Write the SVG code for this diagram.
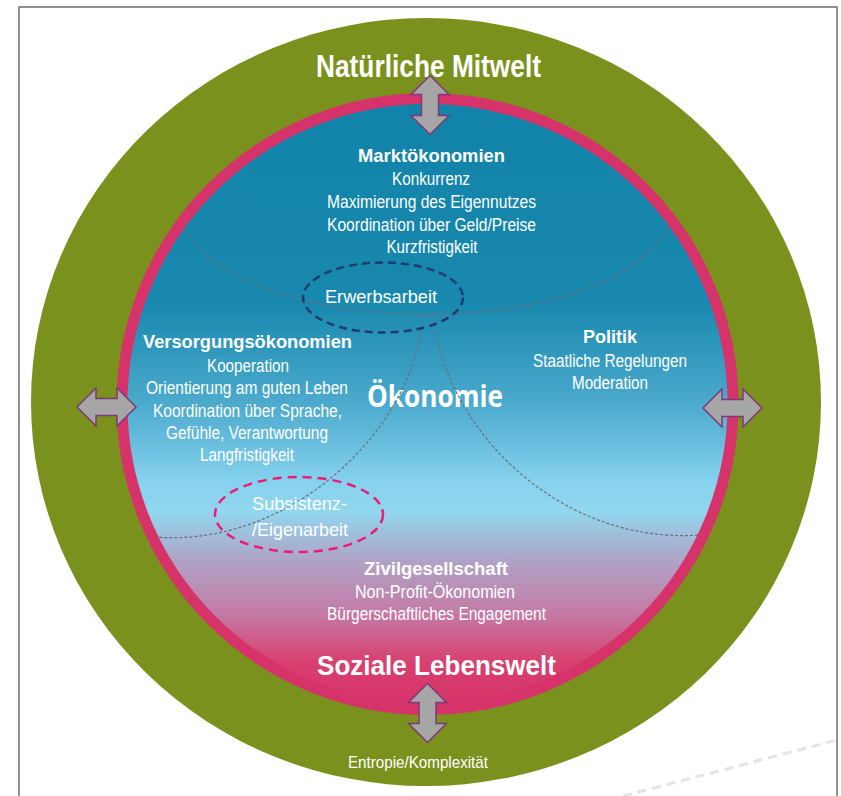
<svg xmlns="http://www.w3.org/2000/svg" xmlns:xlink="http://www.w3.org/1999/xlink" width="841" height="796" viewBox="0 0 841 796">
<style>
.t{fill:#FFFFFF;font-family:"Liberation Sans Narrow","Liberation Sans",Arial,sans-serif;text-anchor:middle}
.b{font-weight:bold;font-size:18px}
.r{font-size:17.5px}
.h{font-weight:bold;font-size:32px}
.dot{fill:none;stroke:#6B6E78;stroke-width:1.2;stroke-dasharray:3 2}
.arr{fill:#A6A6A6;stroke:#7E3A78;stroke-width:1.5;stroke-linejoin:miter}
</style>
<defs>
<linearGradient id="eco" gradientUnits="userSpaceOnUse" x1="0" y1="104" x2="0" y2="704">
<stop offset="0" stop-color="#1283A8"/>
<stop offset="0.33" stop-color="#1888AE"/>
<stop offset="0.5" stop-color="#4CAACD"/>
<stop offset="0.63" stop-color="#86D2EE"/>
<stop offset="0.68" stop-color="#92D6EE"/>
<stop offset="0.76" stop-color="#AFA4C6"/>
<stop offset="0.85" stop-color="#C47AA6"/>
<stop offset="0.93" stop-color="#D8406F"/>
<stop offset="1" stop-color="#D6336A"/>
</linearGradient>
<path id="darrow" class="arr" d="M-29.5,0 L-10.5,-19 L-10.5,-8.5 L10.5,-8.5 L10.5,-19 L29.5,0 L10.5,19 L10.5,8.5 L-10.5,8.5 L-10.5,19 Z"/>
</defs>
<rect x="0" y="0" width="841" height="796" fill="#FFFFFF"/>
<rect x="19" y="7" width="818" height="800" fill="none" stroke="#6E6E6E" stroke-width="1.5"/>
<line x1="623" y1="796" x2="841" y2="739" stroke="#E4E4E4" stroke-width="3" stroke-dasharray="9 6"/>

<g id="natuerliche-mitwelt">
<ellipse cx="426" cy="402" rx="395" ry="384" fill="#7B911D"/>
<text class="t h" x="428.5" y="77" textLength="225" lengthAdjust="spacingAndGlyphs">Natürliche Mitwelt</text>
<text class="t" x="418" y="768" font-size="17" textLength="140" lengthAdjust="spacingAndGlyphs" fill="#F2F2F2">Entropie/Komplexität</text>
</g>

<g id="soziale-lebenswelt">
<circle cx="427.5" cy="404" r="305.5" fill="url(#eco)" stroke="#D6336A" stroke-width="11"/>
<text class="t" x="436.5" y="675" font-weight="bold" font-size="28" style="font-family:'Liberation Sans',Arial,sans-serif" textLength="239" lengthAdjust="spacingAndGlyphs">Soziale Lebenswelt</text>
</g>

<g id="oekonomie">
<text class="t" x="435" y="407" font-weight="bold" font-size="30" style="font-family:'Open Sans','Liberation Sans',sans-serif" textLength="136" lengthAdjust="spacingAndGlyphs">Ökonomie</text>
</g>

<g id="connectors">
<path class="dot" d="M184,223 A244,105 0 0 0 668,223"/>
<path class="dot" d="M423,315 C415,430 290,548 155,537"/>
<path class="dot" d="M433,315 C445,430 560,545 700,535"/>
<use xlink:href="#darrow" transform="translate(430,105) rotate(90)"/>
<use xlink:href="#darrow" transform="translate(427.5,713) rotate(90)"/>
<use xlink:href="#darrow" transform="translate(106.5,407)"/>
<use xlink:href="#darrow" transform="translate(732.5,408)"/>
</g>

<g id="marktoekonomien">
<text class="t b" x="431.5" y="162" textLength="147" lengthAdjust="spacingAndGlyphs">Marktökonomien</text>
<text class="t r" x="431" y="185" textLength="78" lengthAdjust="spacingAndGlyphs">Konkurrenz</text>
<text class="t r" x="431.5" y="208" textLength="209" lengthAdjust="spacingAndGlyphs">Maximierung des Eigennutzes</text>
<text class="t r" x="431.5" y="231" textLength="209" lengthAdjust="spacingAndGlyphs">Koordination über Geld/Preise</text>
<text class="t r" x="432" y="253" textLength="91" lengthAdjust="spacingAndGlyphs">Kurzfristigkeit</text>
</g>

<g id="erwerbsarbeit">
<ellipse cx="383" cy="297.5" rx="80" ry="35" fill="none" stroke="#1F3C6E" stroke-width="2.5" stroke-dasharray="8 5"/>
<text class="t" x="381" y="303" font-size="18.5" textLength="112" lengthAdjust="spacingAndGlyphs" fill="#F4F6FA">Erwerbsarbeit</text>
</g>

<g id="versorgungsoekonomien">
<text class="t b" x="247.5" y="348" textLength="209" lengthAdjust="spacingAndGlyphs">Versorgungsökonomien</text>
<text class="t r" x="248" y="372" textLength="82" lengthAdjust="spacingAndGlyphs">Kooperation</text>
<text class="t r" x="247" y="394" textLength="202" lengthAdjust="spacingAndGlyphs">Orientierung am guten Leben</text>
<text class="t r" x="247.5" y="417" textLength="189" lengthAdjust="spacingAndGlyphs">Koordination über Sprache,</text>
<text class="t r" x="247" y="439" textLength="162" lengthAdjust="spacingAndGlyphs">Gefühle, Verantwortung</text>
<text class="t r" x="247" y="461" textLength="94" lengthAdjust="spacingAndGlyphs">Langfristigkeit</text>
</g>

<g id="politik">
<text class="t b" x="610" y="343" textLength="54" lengthAdjust="spacingAndGlyphs">Politik</text>
<text class="t r" x="610" y="367" textLength="154" lengthAdjust="spacingAndGlyphs">Staatliche Regelungen</text>
<text class="t r" x="610" y="389" textLength="76" lengthAdjust="spacingAndGlyphs">Moderation</text>
</g>

<g id="subsistenz">
<ellipse cx="299" cy="514.5" rx="84" ry="37.5" fill="none" stroke="#EB1C75" stroke-width="2.5" stroke-dasharray="9 6"/>
<text class="t" x="299.5" y="510" font-size="18.5" textLength="95" lengthAdjust="spacingAndGlyphs" fill="#EEF2F8">Subsistenz-</text>
<text class="t" x="300" y="536" font-size="18.5" textLength="96" lengthAdjust="spacingAndGlyphs" fill="#EEF2F8">/Eigenarbeit</text>
</g>

<g id="zivilgesellschaft">
<text class="t b" x="436" y="575" textLength="144" lengthAdjust="spacingAndGlyphs">Zivilgesellschaft</text>
<text class="t r" x="435" y="598" textLength="160" lengthAdjust="spacingAndGlyphs">Non-Profit-Ökonomien</text>
<text class="t r" x="436.5" y="620" textLength="219" lengthAdjust="spacingAndGlyphs">Bürgerschaftliches Engagement</text>
</g>
</svg>
